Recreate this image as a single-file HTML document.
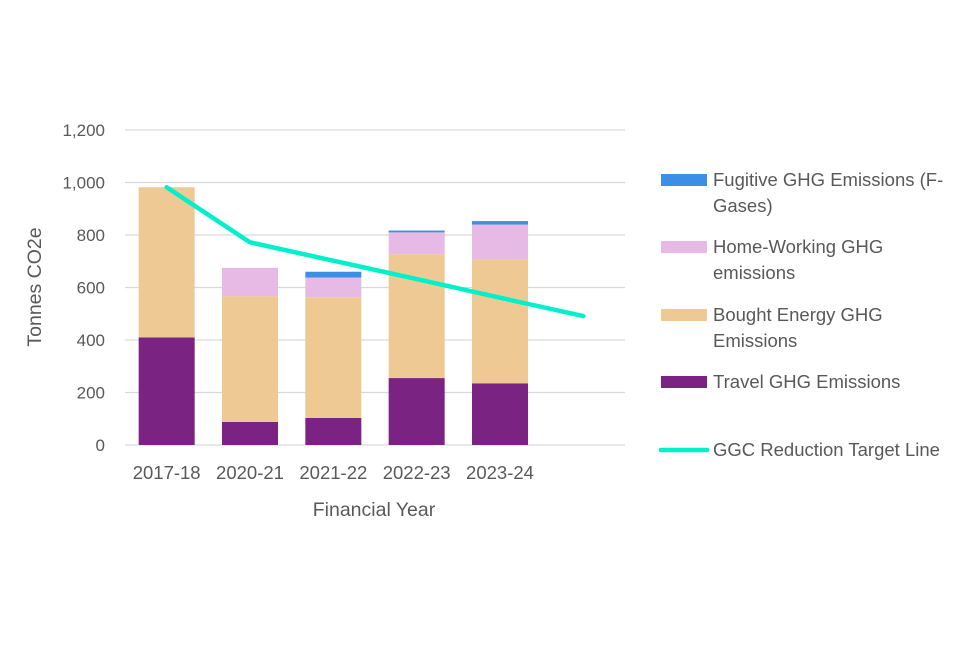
<!DOCTYPE html>
<html><head><meta charset="utf-8"><style>
body{margin:0;background:#fff;font-family:"Liberation Sans",sans-serif;}
svg text{fill:#595959;font-family:"Liberation Sans",sans-serif;}
</style></head><body>
<svg id="c" width="960" height="640"></svg>
<script>
const categories=["2017-18","2020-21","2021-22","2022-23","2023-24",""];
const travel=[410,88,103,255,235];
const bought=[572,479,460,472,473];
const home=[0,108,75,83,132];
const fugitive=[0,0,22,7,13];
const target=[982,772,702,632,561,491];
const yTicks=[0,200,400,600,800,1000,1200];
const yTickLabels=["0","200","400","600","800","1,000","1,200"];
const NS="http://www.w3.org/2000/svg",svg=document.getElementById('c');
const x0=125,x1=625,y0=445,y1=130,ymax=1200;
const band=(x1-x0)/categories.length;
const X=i=>x0+band*(i+0.5);
const Y=v=>y0-(v/ymax)*(y0-y1);
function el(t,a,p){const e=document.createElementNS(NS,t);for(const k in a)e.setAttribute(k,a[k]);(p||svg).appendChild(e);return e;}
yTicks.forEach((t,i)=>{
 const g=el('line',{x1:x0,x2:x1,y1:Y(t),y2:Y(t),stroke:'#d9d9d9','stroke-width':1.3});
 
 
 const l=el('text',{x:105,y:Y(t)+6,'text-anchor':'end','font-size':17});
 l.textContent=yTickLabels[i];
 
 
});
categories.forEach((c,i)=>{
 if(!c)return;
 const l=el('text',{x:X(i),y:479,'text-anchor':'middle','font-size':18.5});
 l.textContent=c;
 
 
});
const series=[[travel,'#7a2382','travel'],[bought,'#eec994','bought-energy'],[home,'#e6bae4','home-working'],[fugitive,'#3b8fe4','fugitive']];
const bw=56;
for(let i=0;i<travel.length;i++){
 let acc=0;
 series.forEach(([arr,col,nm])=>{
  const v=arr[i];if(!v){return;}
  const r=el('rect',{x:X(i)-bw/2,y:Y(acc+v),width:bw,height:Y(acc)-Y(acc+v),fill:col});
  
  
  acc+=v;
 });
}
const pl=el('polyline',{points:target.map((v,i)=>X(i)+','+Y(v)).join(' '),fill:'none',stroke:'#00f0cc','stroke-width':4.5,'stroke-linecap':'round','stroke-linejoin':'round'});


const yt=el('text',{transform:'translate(41,287) rotate(-90)','text-anchor':'middle','font-size':19.5});
yt.textContent='Tonnes CO2e';


const xt=el('text',{x:374,y:516,'text-anchor':'middle','font-size':19.5});
xt.textContent='Financial Year';


const legend=[['#3b8fe4',['Fugitive GHG Emissions (F-','Gases)'],180,'rect'],['#e6bae4',['Home-Working GHG','emissions'],247,'rect'],['#eec994',['Bought Energy GHG','Emissions'],315,'rect'],['#7a2382',['Travel GHG Emissions'],382,'rect'],['#00f0cc',['GGC Reduction Target Line'],450,'line']];
legend.forEach(([col,lines,y,kind])=>{
 const g=el('g',{});
 
 
 if(kind==='rect')el('rect',{x:661,y:y-6,width:46,height:12,fill:col},g);
 else el('line',{x1:661,x2:707,y1:y,y2:y,stroke:col,'stroke-width':4.5,'stroke-linecap':'round'},g);
 lines.forEach((t,j)=>{const tx=el('text',{x:713,y:y+6+j*26,'font-size':18.5},g);tx.textContent=t;});
});
</script>
</body></html>
